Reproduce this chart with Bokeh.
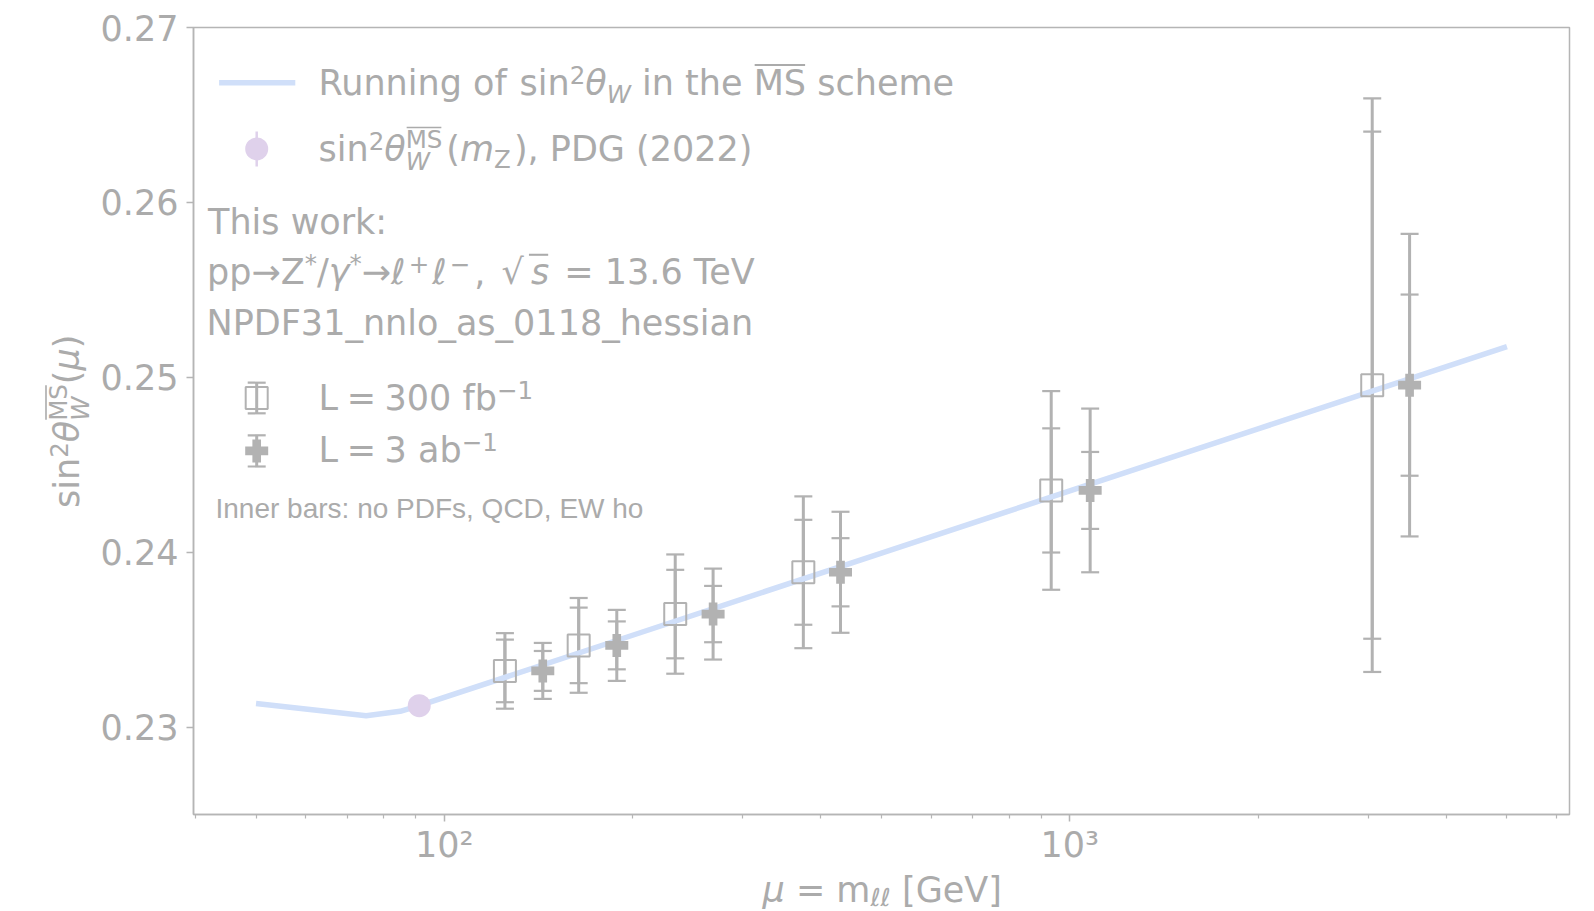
import math
from bokeh.plotting import figure
from bokeh.layouts import row, column
from bokeh.models import (ColumnDataSource, Whisker, TeeHead, Label, Arrow,
                          FixedTicker, CustomJSTickFormatter)
from bokeh.embed import file_html
from bokeh.resources import INLINE

# ---------------- data ----------------
mu_run = [50, 75, 85, 91.19, 200, 500, 1000, 2000, 5000]
s2w_run = [0.23135, 0.23065, 0.23090, 0.23122, 0.23525, 0.23995, 0.24350, 0.24705, 0.25175]

mu_pdg = [91.1876]
s2w_pdg = [0.23122]

mu_300fb = [125, 164, 234, 375, 934, 3045]
mu_3ab = [143.7, 188.7, 269, 430, 1078, 3494]
s2w_proj = [0.23321, 0.23467, 0.23646, 0.23885, 0.24353, 0.24955]
err_300fb_tot = [0.00216, 0.00271, 0.00341, 0.00434, 0.00568, 0.01640]
err_300fb_inner = [0.00179, 0.00216, 0.00253, 0.00300, 0.00355, 0.01450]
err_3ab_tot = [0.00160, 0.00203, 0.00260, 0.00346, 0.00468, 0.00865]
err_3ab_inner = [0.00114, 0.00137, 0.00161, 0.00195, 0.00220, 0.00518]

y_ticks = [0.23, 0.24, 0.25, 0.26, 0.27]
x_major_ticks = [100, 1000]
x_minor_ticks = [40, 50, 60, 70, 80, 90, 200, 300, 400, 500, 600, 700, 800, 900,
                 2000, 3000, 4000, 5000, 6000]
x_range = (39.72, 6295.0)
y_range = (0.225, 0.27)

# ---------------- style / layout ----------------
W, H = 1594, 911
YW = 95            # width of the strip that holds the y-axis title
PH = 867           # height of the main figure
FL, FR, FT, FB = 193, 1569, 27, 814   # frame edges in page pixels
FONT = "DejaVu Sans"
TXT = "#ababab"
AXC = "#b5b5b5"
GRAY = "#b2b2b2"
BLUE = "#d0dff9"
PURPLE = "#dfd1eb"
S = 35.0
s = 24.5
K = 0.365          # baseline correction of Bokeh text (fraction of font size)

p = figure(width=W - YW, height=PH, x_axis_type="log", x_range=x_range, y_range=y_range,
           output_backend="svg", toolbar_location=None,
           min_border_left=FL - YW, min_border_right=W - FR,
           min_border_top=FT, min_border_bottom=PH - FB)
p.background_fill_color = "white"
p.border_fill_color = "white"
p.outline_line_color = AXC
p.outline_line_width = 1.5
p.xgrid.visible = False
p.ygrid.visible = False

for ax in (p.xaxis[0], p.yaxis[0]):
    ax.axis_line_color = AXC
    ax.axis_line_width = 1.5
    ax.major_tick_line_color = AXC
    ax.major_tick_line_width = 1.5
    ax.minor_tick_line_color = AXC
    ax.minor_tick_line_width = 1.2
    ax.major_tick_in = 0
    ax.major_tick_out = 7
    ax.minor_tick_in = 0
    ax.minor_tick_out = 4
    ax.major_label_text_font = FONT
    ax.major_label_text_font_size = "35px"
    ax.major_label_text_color = TXT

p.xaxis.ticker = FixedTicker(ticks=x_major_ticks, minor_ticks=x_minor_ticks)
p.xaxis.formatter = CustomJSTickFormatter(code="""
const e = Math.round(Math.log10(tick));
const sup = {2: '\u00b2', 3: '\u00b3'};
return '10' + (sup[e] || String(e));
""")
p.xaxis.major_label_standoff = 3
p.yaxis.ticker = FixedTicker(ticks=y_ticks)
p.yaxis.formatter = CustomJSTickFormatter(code="return tick.toFixed(2);")
p.yaxis.minor_tick_line_color = None
p.yaxis.major_label_standoff = 8


def blank(w, h):
    f = figure(width=w, height=h, x_range=(0, 1), y_range=(0, 1), output_backend="svg",
               toolbar_location=None, x_axis_location=None, y_axis_location=None,
               min_border=0)
    f.title.visible = False
    f.outline_line_color = None
    f.background_fill_color = "white"
    f.border_fill_color = "white"
    for g in f.grid:
        g.visible = False
    return f


xfig = blank(W - YW, H - PH)
yfig = blank(YW, H)

# text contexts: (figure, page x of its frame's left, page y of its frame's bottom)
CP = (p, FL, FB)
CX = (xfig, FL, H)      # the column aligns this strip's frame with the main frame
CY = (yfig, 0, H)

# ---------------- helpers: pixel layout -> data / screen ----------------
lx0, lx1 = math.log10(x_range[0]), math.log10(x_range[1])


def dx(X):
    return 10 ** (lx0 + (X - FL) / (FR - FL) * (lx1 - lx0))


def dy(Y):
    return y_range[0] + (FB - Y) / (FB - FT) * (y_range[1] - y_range[0])


EM = {' ': .318, '(': .390, ')': .390, '*': .500, '+': .838, ',': .318, '.': .318,
      '/': .337, ':': .337, '=': .838, '[': .390, ']': .390, '_': .500, '\u2212': .838,
      '\u2192': .838, '\u221a': .838, '\u03b8': .612, '\u03bc': .636, '\u03b3': .592,
      '\u2113': .417,
      'A': .684, 'C': .698, 'D': .770, 'E': .632, 'F': .575, 'G': .775, 'L': .557,
      'M': .863, 'N': .748, 'P': .603, 'Q': .775, 'R': .695, 'S': .635, 'T': .611,
      'V': .684, 'W': .989, 'Z': .685,
      'a': .613, 'b': .635, 'c': .550, 'e': .615, 'f': .352, 'g': .635, 'h': .634,
      'i': .278, 'k': .579, 'l': .278, 'm': .974, 'n': .634, 'o': .612, 'p': .635,
      'r': .411, 's': .521, 't': .392, 'u': .634, 'w': .818, 'y': .592}
for d in "0123456789":
    EM[d] = .636


def tw(t, size):
    return sum(EM.get(c, .6) for c in t) * size


def label(ctx, X, Y, text, size=S, style="normal", angle=0, font=FONT):
    fig, ox, oy = ctx
    if angle == 0:
        Y -= K * size
    else:
        X -= K * size
    fig.add_layout(Label(x=X - ox, y=oy - Y, x_units="screen", y_units="screen",
                         text=text, text_font=font, text_font_size=f"{size}px",
                         text_font_style=style, text_color=TXT,
                         text_align="left", text_baseline="alphabetic",
                         angle=angle, angle_units="deg"))


def rule(ctx, X0, Y0, X1, Y1, width=2.0):
    fig, ox, oy = ctx
    fig.add_layout(Arrow(start=None, end=None, x_start=X0 - ox, y_start=oy - Y0,
                         x_end=X1 - ox, y_end=oy - Y1, start_units="screen",
                         end_units="screen", line_color=TXT, line_width=width))


def place(ctx, X, Y, runs, angle=0):
    adv = 0.0
    for r in runs:
        t = r[0]
        o = r[1] if len(r) > 1 else {}
        size = o.get("size", S)
        style = o.get("style", "normal")
        shift = o.get("shift", 0.0)
        lead = len(t) - len(t.lstrip(" "))
        a = adv + lead * EM[" "] * size
        if t.strip():
            if angle == 0:
                label(ctx, X + a, Y - shift, t.strip(), size, style)
            else:
                label(ctx, X - shift, Y - a, t.strip(), size, style, angle=90)
        w = tw(t, size)
        if "ol" in o:
            h = o["ol"]
            e0 = o.get("ol_ext", 0.0)
            if angle == 0:
                rule(ctx, X + adv + 1 - e0, Y - h, X + adv + w - 1, Y - h, o.get("olw", 2.0))
            else:
                rule(ctx, X - h, Y - adv - 1 + e0, X - h, Y - adv - w + 1, o.get("olw", 2.0))
        adv += o.get("adv", w) + o.get("gap", 0.0)
    return adv


# ---------------- data glyphs ----------------
p.line(mu_run, s2w_run, line_color=BLUE, line_width=5.5)


def errorbars(xs, ys, errs, bar_w=3.0):
    src = ColumnDataSource(dict(x=xs, lo=[y - e for y, e in zip(ys, errs)],
                                hi=[y + e for y, e in zip(ys, errs)]))
    wk = Whisker(source=src, base="x", lower="lo", upper="hi", dimension="height",
                 line_color=GRAY, line_width=bar_w,
                 upper_head=TeeHead(size=18, line_color=GRAY, line_width=2.2),
                 lower_head=TeeHead(size=18, line_color=GRAY, line_width=2.2))
    p.add_layout(wk)


errorbars(mu_300fb, s2w_proj, err_300fb_tot)
errorbars(mu_300fb, s2w_proj, err_300fb_inner)
errorbars(mu_3ab, s2w_proj, err_3ab_tot)
errorbars(mu_3ab, s2w_proj, err_3ab_inner)

p.scatter(mu_300fb, s2w_proj, marker="square", size=22, fill_color=None,
          line_color=GRAY, line_width=2)
p.scatter(mu_3ab, s2w_proj, marker="plus", size=23, fill_color=GRAY, line_color=None)
p.scatter(mu_pdg, s2w_pdg, marker="circle", size=23, fill_color=PURPLE, line_color=None)

# ---------------- legend handles ----------------
LX = 256.2
p.line([dx(218.6), dx(294.8)], [dy(82.3), dy(82.3)], line_color=BLUE, line_width=5.5)
p.segment(x0=[dx(LX)], y0=[dy(131)], x1=[dx(LX)], y1=[dy(166)],
          line_color=PURPLE, line_width=2.5)
p.scatter([dx(LX)], [dy(148.4)], marker="circle", size=23, fill_color=PURPLE, line_color=None)

errorbars([dx(LX)], [dy(397.5)], [dy(382.2) - dy(397.5)])
p.scatter([dx(LX)], [dy(397.5)], marker="square", size=22, fill_color=None,
          line_color=GRAY, line_width=2)
errorbars([dx(LX)], [dy(450.4)], [dy(434.8) - dy(450.4)])
p.scatter([dx(LX)], [dy(450.4)], marker="plus", size=23, fill_color=GRAY, line_color=None)

# ---------------- texts ----------------
IT = "italic"
place(CP, 318, 95.5, [
    ("Running of ",), ("sin",), ("2", dict(size=s, shift=12)), ("\u03b8", dict(style=IT)),
    ("W", dict(size=s, style=IT, shift=-7)), (" in the ",), ("MS", dict(ol=31)),
    (" scheme",)])

place(CP, 318, 161, [
    ("sin",), ("2", dict(size=s, shift=12)), ("\u03b8", dict(style=IT)),
    ("W", dict(size=s, style=IT, shift=-9, adv=0)),
    ("MS", dict(size=s, shift=13, ol=34, olw=1.6, gap=4)),
    ("(",), ("m", dict(style=IT)), ("Z", dict(size=s, shift=-7, gap=3)), (")",),
    (", PDG (2022)",)])

place(CP, 207.5, 234.4, [("This work:",)])

place(CP, 206.5, 284.3, [
    ("pp\u2192Z",), ("*", dict(size=s, shift=12)), ("/",), ("\u03b3", dict(style=IT)),
    ("*", dict(size=s, shift=12)), ("\u2192",), ("\u2113", dict(style=IT, gap=3)),
    ("+", dict(size=s, shift=12, gap=3)), ("\u2113", dict(style=IT, gap=3)),
    ("\u2212", dict(size=s, shift=12, gap=4)), (",",), (" ", dict(gap=5)),
    ("\u221a",), ("s", dict(style=IT, ol=30, ol_ext=3, gap=4)), (" = 13.6 TeV",)])

place(CP, 206, 335, [("NPDF31_nnlo_as_0118_hessian",)])

place(CP, 318, 410.2, [("L ", dict(gap=-2.5)), ("= ", dict(gap=-2.5)), ("300 fb",),
                       ("\u22121", dict(size=s, shift=12))])
place(CP, 318, 462, [("L ", dict(gap=-2.5)), ("= ", dict(gap=-2.5)), ("3 ab",),
                     ("\u22121", dict(size=s, shift=12))])

label(CP, 215, 518.3, "Inner bars: no PDFs, QCD, EW ho", size=28, font="Liberation Sans")

# axis titles (in their own strips, outside the plotting frame)
place(CX, 762, 902, [("\u03bc", dict(style=IT)), (" = ",), ("m",),
                     ("\u2113\u2113", dict(size=s, style=IT, shift=-3.5)), (" [GeV]",)])

place(CY, 79.5, 507.5, [
    ("sin",), ("2", dict(size=s, shift=12)), ("\u03b8", dict(style=IT)),
    ("W", dict(size=s, style=IT, shift=-9, adv=0)),
    ("MS", dict(size=s, shift=13, ol=34, olw=1.6)),
    ("(",), ("\u03bc", dict(style=IT)), (")",)], angle=90)

layout = row(yfig, column(p, xfig))

with open("out.html", "w", encoding="utf-8") as f:
    f.write(file_html(layout, INLINE))
